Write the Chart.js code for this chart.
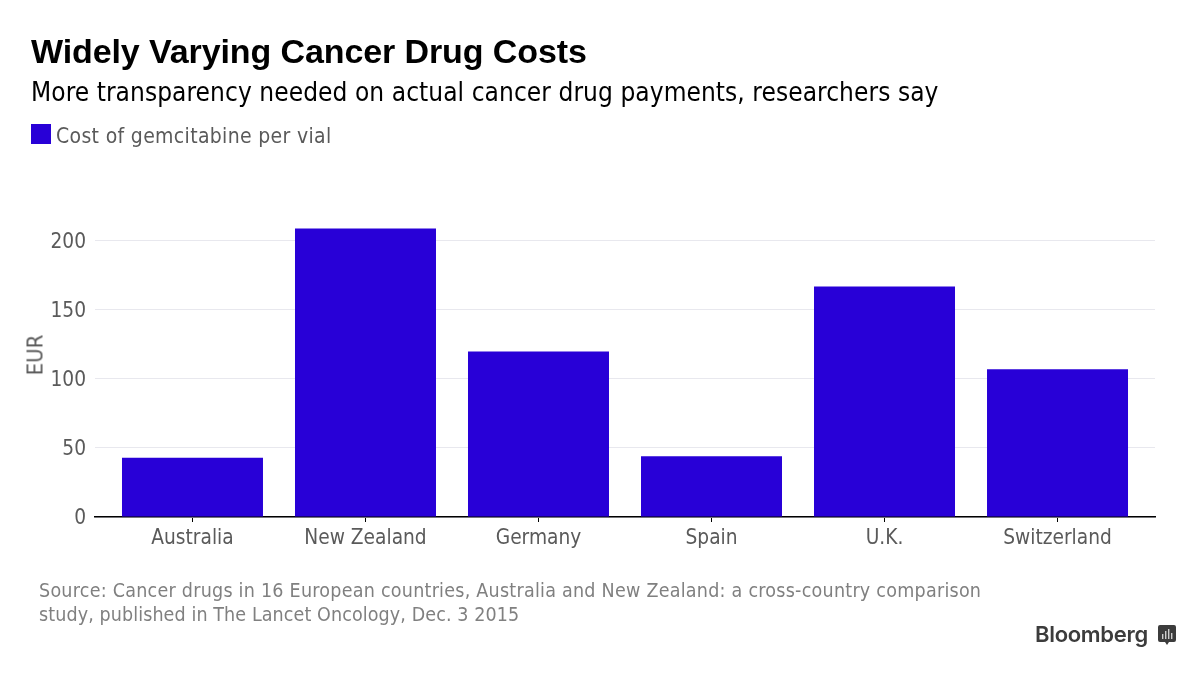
<!DOCTYPE html>
<html lang="en">
<head>
<meta charset="UTF-8">
<title>Widely Varying Cancer Drug Costs</title>
<script src="https://cdn.jsdelivr.net/npm/chart.js@4"></script>
<style>
    html, body { margin: 0; padding: 0; background: #fff; }
    body { width: 1200px; height: 673px; position: relative; overflow: hidden; font-family: "DejaVu Sans Condensed", "DejaVu Sans", sans-serif; }
    #chartBox { position: absolute; left: 0; top: 0; width: 1200px; height: 673px; }
    .txt { position: absolute; white-space: nowrap; }
    #title { left: 31px; top: 32px; font: bold 34px "Liberation Sans", Arial, sans-serif; letter-spacing: -0.1px; color: #000; }
    #subtitle { left: 31px; top: 77px; font-size: 26px; letter-spacing: 0.07px; color: #000; }
    #swatch { position: absolute; left: 31px; top: 124px; width: 20px; height: 20px; background: #2800d7; }
    #legend { left: 56px; top: 124px; font-size: 21px; letter-spacing: 0.33px; color: #5a5a5a; }
    #yTitle { left: 35px; top: 355px; font-size: 22px; color: #5a5a5a; transform: translate(-50%, -50%) rotate(-90deg); }
    .source { left: 39px; font-size: 19.5px; color: #808080; }
    #logo { left: 1035px; top: 621px; font: 600 22px Inter, Roboto, sans-serif; color: #3c3c3c; letter-spacing: -0.3px; }
    #logoIcon { position: absolute; left: 1158px; top: 625px; }
</style>
</head>
<body>
<div id="chartBox"><canvas id="myChart" width="1200" height="673"></canvas></div>
<div class="txt" id="title">Widely Varying Cancer Drug Costs</div>
<div class="txt" id="subtitle">More transparency needed on actual cancer drug payments, researchers say</div>
<div id="swatch"></div>
<div class="txt" id="legend">Cost of gemcitabine per vial</div>
<div class="txt" id="yTitle">EUR</div>
<div class="txt source" style="top:579px; letter-spacing:0.25px">Source: Cancer drugs in 16 European countries, Australia and New Zealand: a cross-country comparison</div>
<div class="txt source" style="top:603px; letter-spacing:0.1px">study, published in The Lancet Oncology, Dec. 3 2015</div>
<div class="txt" id="logo">Bloomberg</div>
<svg id="logoIcon" width="18" height="22" viewBox="0 0 18 22">
    <path d="M2 0H16a2 2 0 0 1 2 2V15a2 2 0 0 1-2 2H11L9 20L7 17H2a2 2 0 0 1-2-2V2a2 2 0 0 1 2-2z" fill="#3c3c3c"/>
    <path d="M4 9h1.4v5H4zM7 6h1.4v8H7zM10 4h1.4v10H10zM13 8h1.4v6H13z" fill="#ccc"/>
</svg>

<script>
    const categories = ['Australia', 'New Zealand', 'Germany', 'Spain', 'U.K.', 'Switzerland'];
    const costPerVial = [43, 209, 120, 44, 167, 107];
    const yTicks = [0, 50, 100, 150, 200];

    const tickFont = { family: '"DejaVu Sans Condensed", "DejaVu Sans", sans-serif', size: 20.7 };

    new Chart(document.getElementById('myChart').getContext('2d'), {
        type: 'bar',
        data: {
            // linear x axis so the bars can sit inside the axis line with a small margin each side
            datasets: [{
                label: 'Cost of gemcitabine per vial',
                data: costPerVial.map((v, i) => ({ x: i, y: v })),
                backgroundColor: '#2800d7',
                barPercentage: 0.815,
                categoryPercentage: 1
            }]
        },
        options: {
            responsive: false,
            animation: false,
            layout: { padding: { top: 228, right: 45, bottom: 0, left: 0 } },
            plugins: { legend: { display: false }, tooltip: { enabled: false } },
            scales: {
                x: {
                    type: 'linear',
                    offset: false,
                    min: -0.5635,
                    max: 5.5635,
                    afterFit: function(scale) { scale.height = 156; },
                    afterBuildTicks: function(scale) { scale.ticks = categories.map((c, i) => ({ value: i })); },
                    grid: { offset: false, drawOnChartArea: false, color: '#000', tickLength: 5 },
                    border: { color: '#000', width: 1.5 },
                    ticks: {
                        color: '#5a5a5a',
                        font: tickFont,
                        padding: 4,
                        maxRotation: 0,
                        autoSkip: false,
                        callback: function(value) { return categories[value]; }
                    }
                },
                y: {
                    min: 0,
                    max: 209.4,
                    afterFit: function(scale) { scale.width = 95; },
                    afterBuildTicks: function(scale) { scale.ticks = yTicks.map(v => ({ value: v })); },
                    grid: { color: '#e8e8ee', drawTicks: false },
                    border: { display: false },
                    ticks: { color: '#5a5a5a', font: tickFont, padding: 9, labelOffset: 2 }
                }
            }
        }
    });
</script>
</body>
</html>
